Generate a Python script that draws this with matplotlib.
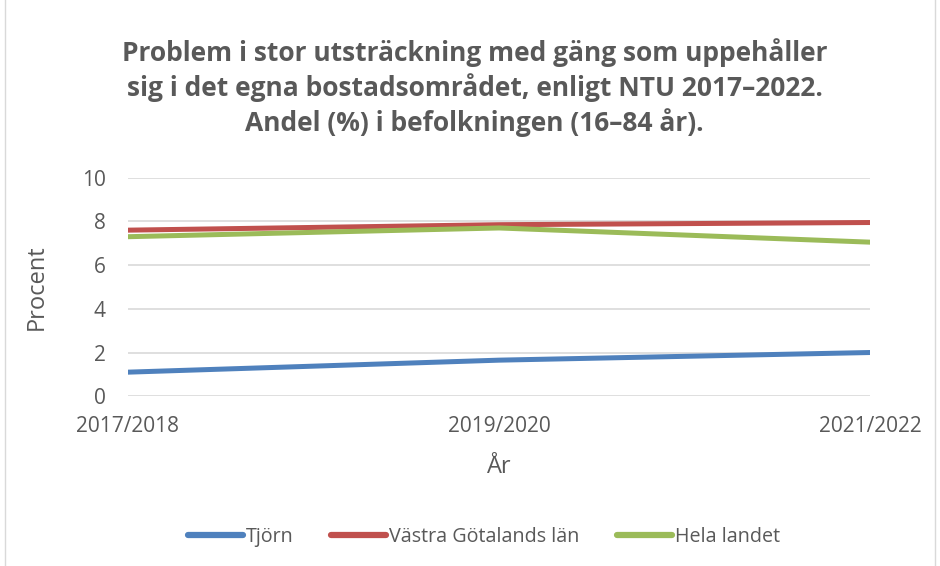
import matplotlib.pyplot as plt
from matplotlib.patches import Rectangle

# --- data ---
years = ["2017/2018", "2019/2020", "2021/2022"]
tjorn = [1.1, 1.65, 2.0]
vastra_gotaland = [7.6, 7.85, 7.95]
hela_landet = [7.3, 7.7, 7.05]

plt.rcParams['font.family'] = ['Open Sans', 'DejaVu Sans']
grey_text = '#595959'

fig = plt.figure(figsize=(9.4, 5.66), dpi=100)
ax = fig.add_axes([0.136, 0.300, 0.790, 0.386])

x = range(len(years))
ax.plot(x, tjorn, color='#4F81BD', linewidth=3.6, label='Tjörn', solid_capstyle='round')
ax.plot(x, vastra_gotaland, color='#C0504D', linewidth=3.6, label='Västra Götalands län', solid_capstyle='round')
ax.plot(x, hela_landet, color='#9BBB59', linewidth=3.6, label='Hela landet', solid_capstyle='round')

ax.set_xlim(0, len(years) - 1)
ax.set_ylim(0, 10)
ax.set_yticks(range(0, 11, 2))
ax.set_xticks(list(x))
ax.set_xticklabels(years)
ax.grid(axis='y', color='#D9D9D9', linewidth=1.2)
ax.set_axisbelow(True)
for s in ax.spines.values():
    s.set_visible(False)
ax.tick_params(length=0, labelsize=15, colors=grey_text)
ax.tick_params(axis='y', pad=16)
ax.tick_params(axis='x', pad=14)

ax.set_ylabel("Procent", fontsize=17, color=grey_text, labelpad=24)
ax.set_xlabel("År", fontsize=17, color=grey_text, labelpad=13)

fig.text(0.505, 0.846, "Problem i stor utsträckning med gäng som uppehåller\n"
         "sig i det egna bostadsområdet, enligt NTU 2017–2022.\n"
         "Andel (%) i befolkningen (16–84 år).",
         ha='center', va='center', fontsize=19, fontweight='bold',
         color=grey_text, linespacing=1.27)

leg = fig.legend(loc='center', bbox_to_anchor=(0.515, 0.051), ncol=3, frameon=False,
                 fontsize=14.2, handlelength=2.8, handletextpad=0.15, columnspacing=1.9)
for t in leg.get_texts():
    t.set_color(grey_text)
for h in leg.get_lines():
    h.set_linewidth(4.5)

# outer chart border
fig.patches.append(Rectangle((0.005, -0.01), 0.99, 1.02, transform=fig.transFigure,
                             fill=False, edgecolor='#D9D9D9', linewidth=1))

fig.savefig("out.png", dpi=100)
